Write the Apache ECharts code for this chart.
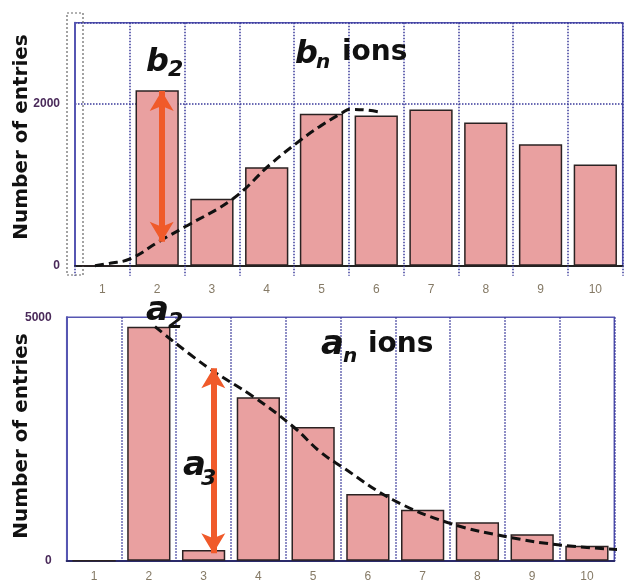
<!DOCTYPE html>
<html>
<head>
<meta charset="utf-8">
<script src="https://cdn.jsdelivr.net/npm/echarts@6/dist/echarts.min.js"></script>
<style>html,body{margin:0;padding:0;background:#fff;}#c{width:626px;height:584px;}</style>
</head>
<body>
<div id="c"></div>
<script>
// ---- data ----
const categories = ['1','2','3','4','5','6','7','8','9','10'];
const bIons = [0, 2165, 826, 1214, 1876, 1855, 1929, 1768, 1500, 1248];
const aIons = [0, 4807, 219, 3356, 2746, 1370, 1048, 788, 542, 308];
// dashed trend curves (x in category index units)
const bCurveX = [-0.135, 0.139, 0.504, 1.052, 1.508, 2.385, 3.06, 3.608, 3.973, 4.39, 4.52, 4.795, 5.05];
const bCurveY = [0, 30, 83, 306, 480, 826, 1248, 1545, 1720, 1892, 1930, 1923, 1898];
const aCurveX = [1.112, 2.057, 2.908, 3.638, 4.126, 4.522, 5.464, 6.5, 7.535, 8.508, 9.695];
const aCurveY = [4807, 3985, 3369, 2752, 2239, 1931, 1247, 768, 493, 322, 220];
// annotation arrows
const bArrowX = [1.083, 1.083];
const bArrowY = [2156, 297];
const aArrowX = [2.177, 2.177];
const aArrowY = [3952, 152];
// y tick labels
const topYTicks = [0, 2000];
const bottomYTicks = [0, 5000];

const zip = (xs, ys) => xs.map((x, i) => [x, ys[i]]);

const chart = echarts.init(document.getElementById('c'), null, {renderer: 'canvas'});
const blue = '#5656b2';
const navy = '#3a3a9a';
const barColor = '#e9a0a0';
const tickLabel = {fontFamily: 'Liberation Sans', fontWeight: 'bold', fontSize: 12, color: '#4a2a5a'};
const xLabel = {fontFamily: 'Liberation Sans', fontSize: 12, color: '#857a66'};
const dash = {color: '#111', width: 3, type: [9, 5]};
const arrowStyle = {color: '#f05a2a', width: 6, type: 'solid'};

function arrowLine(xs, ys) {
  return {
    silent: true,
    symbol: ['arrow', 'arrow'],
    symbolSize: [18, 20],
    label: {show: false},
    lineStyle: arrowStyle,
    itemStyle: {color: '#f05a2a'},
    data: [[{coord: [xs[0], ys[0]]}, {coord: [xs[1], ys[1]]}]],
    animation: false
  };
}

const option = {
  animation: false,
  backgroundColor: '#ffffff',
  grid: [
    {left: 75, top: 22.7, right: 3.3, bottom: 318.3, show: true, borderColor: blue, borderWidth: 1.5},
    {left: 66.7, top: 317.3, right: 11.7, bottom: 23.3, show: true, borderColor: blue, borderWidth: 1.5}
  ],
  xAxis: [
    {type: 'category', gridIndex: 0, data: categories,
     axisLine: {lineStyle: {color: '#222', width: 2}},
     axisTick: {show: true, length: 10, lineStyle: {color: navy, type: 'dotted', width: 1.5}},
     axisLabel: Object.assign({margin: 18}, xLabel),
     splitLine: {show: true, lineStyle: {color: navy, type: 'dotted', width: 1.5}}},
    {type: 'value', gridIndex: 0, min: -0.5, max: 9.5, show: false},
    {type: 'category', gridIndex: 1, data: categories,
     axisLine: {lineStyle: {color: '#2a2a6a', width: 2}},
     axisTick: {show: false},
     axisLabel: Object.assign({margin: 10}, xLabel),
     splitLine: {show: true, lineStyle: {color: navy, type: 'dotted', width: 1.5}}},
    {type: 'value', gridIndex: 1, min: -0.5, max: 9.5, show: false}
  ],
  yAxis: [
    {type: 'value', gridIndex: 0, min: 0, max: 3000, interval: 2000,
     axisLine: {show: true, onZero: false, lineStyle: {color: blue, width: 2}},
     axisTick: {show: false},
     axisLabel: Object.assign({margin: 15, formatter: v => topYTicks.indexOf(v) >= 0 ? String(v) : ''}, tickLabel),
     splitLine: {show: true, lineStyle: {color: navy, type: 'dotted', width: 1.5}}},
    {type: 'value', gridIndex: 1, min: 0, max: 5000, interval: 5000,
     axisLine: {show: true, onZero: false, lineStyle: {color: blue, width: 2}},
     axisTick: {show: false},
     axisLabel: Object.assign({margin: 15, formatter: v => bottomYTicks.indexOf(v) >= 0 ? String(v) : ''}, tickLabel),
     splitLine: {show: false}}
  ],
  series: [
    {type: 'bar', xAxisIndex: 0, yAxisIndex: 0, data: bIons, barCategoryGap: '21%',
     itemStyle: {color: barColor, borderColor: '#2b2222', borderWidth: 1.5}, z: 2},
    {type: 'line', xAxisIndex: 1, yAxisIndex: 0, data: zip(bCurveX, bCurveY), smooth: 0.4,
     symbol: 'none', lineStyle: dash, z: 3, clip: false,
     markLine: arrowLine(bArrowX, bArrowY)},
    {type: 'bar', xAxisIndex: 2, yAxisIndex: 1, data: aIons, barCategoryGap: '21%',
     itemStyle: {color: barColor, borderColor: '#2b2222', borderWidth: 1.5}, z: 2},
    {type: 'line', xAxisIndex: 3, yAxisIndex: 1, data: zip(aCurveX, aCurveY), smooth: 0.4,
     symbol: 'none', lineStyle: dash, z: 3, clip: false,
     markLine: arrowLine(aArrowX, aArrowY)}
  ],
  graphic: [
    {type: 'rect', shape: {x: 67, y: 13, width: 16, height: 262}, silent: true,
     style: {fill: 'none', stroke: '#666', lineWidth: 1.2, lineDash: [2, 2]}, z: 1},
    {type: 'text', x: 22, y: 137, rotation: Math.PI / 2,
     style: {text: 'Number of entries', font: 'bold 20px "DejaVu Sans"', fill: '#111', align: 'center', verticalAlign: 'middle'}},
    {type: 'text', x: 22, y: 436, rotation: Math.PI / 2,
     style: {text: 'Number of entries', font: 'bold 20px "DejaVu Sans"', fill: '#111', align: 'center', verticalAlign: 'middle'}},
    // b2
    {type: 'text', x: 146, y: 63, z: 10, style: {text: 'b', font: 'italic bold 32px "DejaVu Sans"', fill: '#111', align: 'left', verticalAlign: 'middle'}},
    {type: 'text', x: 168, y: 70, z: 10, style: {text: '2', font: 'italic bold 22px "DejaVu Sans"', fill: '#111', align: 'left', verticalAlign: 'middle'}},
    // bn ions
    {type: 'text', x: 295, y: 55, z: 10, style: {text: 'b', font: 'italic bold 32px "DejaVu Sans"', fill: '#111', align: 'left', verticalAlign: 'middle'}},
    {type: 'text', x: 316, y: 63, z: 10, style: {text: 'n', font: 'italic bold 20px "DejaVu Sans"', fill: '#111', align: 'left', verticalAlign: 'middle'}},
    {type: 'text', x: 342, y: 53, z: 10, style: {text: 'ions', font: 'bold 28px "DejaVu Sans"', fill: '#111', align: 'left', verticalAlign: 'middle'}},
    // a2
    {type: 'text', x: 146, y: 311, z: 10, style: {text: 'a', font: 'italic bold 34px "DejaVu Sans"', fill: '#111', align: 'left', verticalAlign: 'middle'}},
    {type: 'text', x: 168, y: 322, z: 10, style: {text: '2', font: 'italic bold 22px "DejaVu Sans"', fill: '#111', align: 'left', verticalAlign: 'middle'}},
    // a3
    {type: 'text', x: 183, y: 466, z: 10, style: {text: 'a', font: 'italic bold 34px "DejaVu Sans"', fill: '#111', align: 'left', verticalAlign: 'middle'}},
    {type: 'text', x: 201, y: 479, z: 10, style: {text: '3', font: 'italic bold 22px "DejaVu Sans"', fill: '#111', align: 'left', verticalAlign: 'middle'}},
    // an ions
    {type: 'text', x: 321, y: 345, z: 10, style: {text: 'a', font: 'italic bold 34px "DejaVu Sans"', fill: '#111', align: 'left', verticalAlign: 'middle'}},
    {type: 'text', x: 343, y: 357, z: 10, style: {text: 'n', font: 'italic bold 20px "DejaVu Sans"', fill: '#111', align: 'left', verticalAlign: 'middle'}},
    {type: 'text', x: 368, y: 345, z: 10, style: {text: 'ions', font: 'bold 28px "DejaVu Sans"', fill: '#111', align: 'left', verticalAlign: 'middle'}}
  ]
};
chart.setOption(option);
</script>
</body>
</html>
